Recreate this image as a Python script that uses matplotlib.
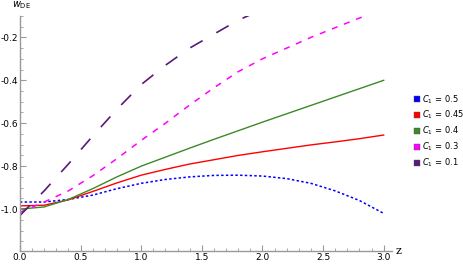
import matplotlib.pyplot as plt
from matplotlib.lines import Line2D
from matplotlib.ticker import MultipleLocator

plt.rcParams["axes.unicode_minus"] = False

# redshift grid
z = [0.0, 0.2, 0.4, 0.6, 0.8, 1.0, 1.2, 1.4, 1.6, 1.8, 2.0, 2.2, 2.4, 2.6, 2.8, 3.0]

# w_DE, one list per C1
w_05 = [-0.967, -0.967, -0.955, -0.935, -0.905, -0.88, -0.862, -0.85, -0.843, -0.842,
        -0.846, -0.858, -0.88, -0.915, -0.96, -1.02]
w_045 = [-0.985, -0.982, -0.957, -0.918, -0.878, -0.842, -0.815, -0.79, -0.77, -0.75,
         -0.733, -0.717, -0.701, -0.687, -0.672, -0.655]
w_04 = [-1.0, -0.99, -0.955, -0.905, -0.85, -0.80, -0.758, -0.716, -0.675, -0.635,
        -0.595, -0.556, -0.517, -0.478, -0.439, -0.40]
w_03 = [-1.015, -0.967, -0.915, -0.845, -0.765, -0.68, -0.60, -0.515, -0.435, -0.36,
        -0.30, -0.25, -0.20, -0.155, -0.11, -0.07]
w_01 = [-1.03, -0.915, -0.79, -0.66, -0.535, -0.42, -0.33, -0.25, -0.185, -0.12,
        -0.07, -0.03, 0.0, 0.0, 0.0, 0.0]

labels = ["0.5", "0.45", "0.4", "0.3", "0.1"]
colors = ["#0000ff", "#ff0000", "#3a8a2a", "#ff00ff", "#5a1a7a"]

fig = plt.figure(figsize=(4.63, 2.65), dpi=100)
ax = fig.add_axes([0.043, 0.053, 0.804, 0.887])

ax.plot(z, w_05, color=colors[0], lw=1.1, dashes=(1.6, 1.5))
ax.plot(z, w_045, color=colors[1], lw=1.0)
ax.plot(z, w_04, color=colors[2], lw=1.0)
ax.plot(z, w_03, color=colors[3], lw=1.1, dashes=(4, 4.5))
ax.plot(z, w_01, color=colors[4], lw=1.2, dashes=(8.5, 9.5))

ax.set_xlim(0, 3.07)
ax.set_ylim(-1.195, -0.1)

for s in ["top", "right"]:
    ax.spines[s].set_visible(False)
for s in ["left", "bottom"]:
    ax.spines[s].set_color("#999999")
    ax.spines[s].set_linewidth(1.0)

ax.xaxis.set_minor_locator(MultipleLocator(0.1))
ax.yaxis.set_minor_locator(MultipleLocator(0.05))
ax.set_yticks([-0.2, -0.4, -0.6, -0.8, -1.0])
ax.set_xticks([0.0, 0.5, 1.0, 1.5, 2.0, 2.5, 3.0])
ax.tick_params(which="both", direction="in", color="#999999", labelsize=6.5, pad=1.5)
ax.tick_params(which="major", length=4)
ax.tick_params(which="minor", length=2)

ax.text(-0.02, 1.02, r"$w_{\mathrm{DE}}$", transform=ax.transAxes, fontsize=7,
        ha="left", va="bottom")
ax.text(1.01, 0.0, "z", transform=ax.transAxes, fontsize=8, ha="left", va="center",
        family="DejaVu Serif")

handles = [Line2D([], [], marker="s", ls="none", color=c, markersize=5,
                  markeredgecolor="#555555", markeredgewidth=0.3) for c in colors]
ax.legend(handles, [r"$C_1$ = " + l for l in labels], loc="center left",
          bbox_to_anchor=(1.055, 0.51), frameon=False, fontsize=6,
          handletextpad=0.1, labelspacing=0.4, handlelength=1.0, borderpad=0,
          borderaxespad=0)

fig.savefig("out.png", dpi=100)
